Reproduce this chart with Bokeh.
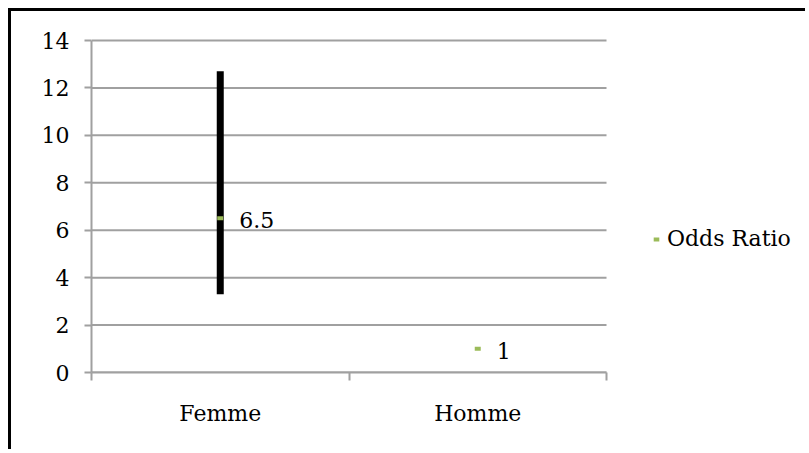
from bokeh.plotting import figure
from bokeh.models import Range1d, FixedTicker, Legend, LegendItem, ColumnDataSource
from bokeh.core.properties import value
from bokeh.embed import file_html
from bokeh.resources import INLINE

# ---- data ----
categories = ["Femme", "Homme"]
odds_ratio = [6.5, 1.0]
ci_lower = [3.3, None]
ci_upper = [12.7, None]
point_labels = ["6.5", "1"]
y_ticks = [0, 2, 4, 6, 8, 10, 12, 14]
series_name = "Odds Ratio"

FONT = "DejaVu Serif"
GREEN = "#9BBB59"
GRID = "#a0a0a0"

W, H = 797, 441
LEFT, TOP, BOTTOM = 80, 26, 80
PLOT_W = 515  # pixel width of the category area
PLOT_H = 332  # pixel height of the 0..14 value area
n = len(categories)
frame_w = W - LEFT
frame_h = H - TOP - BOTTOM
x_end = n * frame_w / PLOT_W
y_end = y_ticks[-1] * frame_h / PLOT_H

xs = [i + 0.5 for i in range(n)]

p = figure(width=W, height=H, output_backend="svg", toolbar_location=None,
           x_range=Range1d(0, x_end), y_range=Range1d(0, y_end),
           min_border_left=LEFT, min_border_top=TOP, min_border_right=0,
           min_border_bottom=BOTTOM,
           styles={"margin-left": "8px", "margin-top": "8px",
                   "border-left": "3px solid black", "border-top": "3px solid black"})
p.outline_line_color = None
p.background_fill_color = "white"
p.border_fill_color = "white"

# axes
xa = p.xaxis[0]
xa.bounds = (0, n)
xa.ticker = FixedTicker(ticks=xs, minor_ticks=[float(i) for i in range(n + 1)])
xa.major_label_overrides = {x: c for x, c in zip(xs, categories)}
xa.major_tick_line_color = None
xa.minor_tick_line_color = GRID
xa.minor_tick_line_width = 2
xa.minor_tick_in = 0
xa.minor_tick_out = 8
xa.axis_line_color = GRID
xa.axis_line_width = 2
xa.major_label_text_font = FONT
xa.major_label_text_font_size = "22px"
xa.major_label_text_color = "black"
xa.major_label_standoff = 20

ya = p.yaxis[0]
ya.bounds = (0, y_ticks[-1])
ya.ticker = FixedTicker(ticks=y_ticks)
ya.minor_tick_line_color = None
ya.major_tick_line_color = GRID
ya.major_tick_line_width = 2
ya.major_tick_in = 0
ya.major_tick_out = 7
ya.axis_line_color = GRID
ya.axis_line_width = 2
ya.major_label_text_font = FONT
ya.major_label_text_font_size = "22px"
ya.major_label_text_color = "black"
ya.major_label_standoff = 15

p.xgrid.grid_line_color = None
p.ygrid.grid_line_color = None
# horizontal gridlines limited to the category area
p.segment(x0=[0] * len(y_ticks), y0=y_ticks, x1=[n] * len(y_ticks), y1=y_ticks,
          line_color=GRID, line_width=2)

# error bar(s)
eb_x = [x for x, lo in zip(xs, ci_lower) if lo is not None]
eb_lo = [lo for lo in ci_lower if lo is not None]
eb_hi = [hi for hi in ci_upper if hi is not None]
p.segment(x0=eb_x, y0=eb_lo, x1=eb_x, y1=eb_hi, line_color="black", line_width=7)

src = ColumnDataSource(dict(x=xs, y=odds_ratio, lab=point_labels))
r = p.scatter("x", "y", source=src, marker="dash", size=6, line_color=GREEN,
              line_width=4, fill_color=GREEN)
p.text("x", "y", text="lab", source=src, x_offset=19, y_offset=2,
       text_baseline="middle", text_align="left", text_font=value(FONT),
       text_font_size="22px", text_color="black")

legend = Legend(items=[LegendItem(label=series_name, renderers=[r])],
                location=(558, 121), orientation="vertical",
                glyph_width=14, glyph_height=14, label_standoff=4,
                label_text_font=FONT, label_text_font_size="22px",
                label_text_color="black", padding=0, margin=0, spacing=0,
                border_line_color=None, background_fill_alpha=0)
p.add_layout(legend, "center")

open("out.html", "w").write(file_html(p, INLINE))
